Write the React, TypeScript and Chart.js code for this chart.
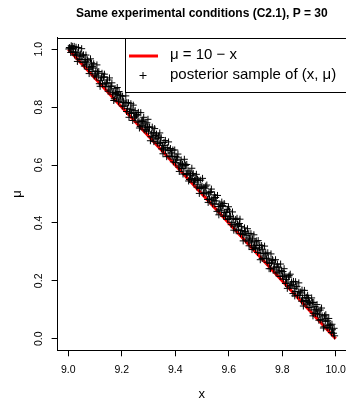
import React, { useEffect, useRef } from "react";
import { Chart, registerables } from "chart.js";

Chart.register(...registerables);

const TITLE = "Same experimental conditions (C2.1), P = 30";
const X_LABEL = "x";
const Y_LABEL = "μ";
const X_TICKS = [9.0, 9.2, 9.4, 9.6, 9.8, 10.0];
const Y_TICKS = [0.0, 0.2, 0.4, 0.6, 0.8, 1.0];
const LEGEND_LABELS = ["μ = 10 − x", "posterior sample of (x, μ)"];

// reference line mu = 10 - x
const LINE_X = [9.0, 10.0];
const LINE_MU = [1.0, 0.0];

// posterior sample of (x, mu)
const SAMPLE_X = [
  9.002, 9.006, 9.009, 9.013, 9.017, 9.020, 9.024, 9.027, 9.031, 9.036, 9.040, 9.043, 9.048, 9.052, 9.055, 9.060, 9.064, 9.068, 9.071, 9.076, 9.080, 9.085, 9.089, 9.093, 9.097,
  9.101, 9.105, 9.109, 9.112, 9.116, 9.121, 9.124, 9.128, 9.133, 9.137, 9.140, 9.144, 9.149, 9.152, 9.156, 9.161, 9.165, 9.168, 9.172, 9.177, 9.181, 9.185, 9.188, 9.193, 9.197,
  9.202, 9.205, 9.209, 9.213, 9.218, 9.221, 9.225, 9.229, 9.232, 9.236, 9.241, 9.245, 9.248, 9.252, 9.257, 9.260, 9.264, 9.269, 9.273, 9.276, 9.280, 9.284, 9.289, 9.292, 9.296,
  9.300, 9.304, 9.309, 9.312, 9.316, 9.320, 9.325, 9.328, 9.333, 9.337, 9.340, 9.345, 9.349, 9.352, 9.356, 9.361, 9.364, 9.368, 9.373, 9.377, 9.380, 9.384, 9.389, 9.393, 9.396,
  9.401, 9.404, 9.408, 9.413, 9.417, 9.420, 9.424, 9.429, 9.432, 9.436, 9.441, 9.444, 9.448, 9.453, 9.457, 9.460, 9.465, 9.468, 9.472, 9.477, 9.481, 9.484, 9.488, 9.492, 9.497,
  9.500, 9.505, 9.508, 9.512, 9.516, 9.521, 9.524, 9.528, 9.533, 9.536, 9.540, 9.545, 9.548, 9.553, 9.556, 9.561, 9.564, 9.569, 9.572, 9.576, 9.581, 9.585, 9.588, 9.593, 9.596,
  9.601, 9.604, 9.609, 9.612, 9.617, 9.620, 9.624, 9.628, 9.633, 9.637, 9.640, 9.644, 9.649, 9.652, 9.657, 9.660, 9.664, 9.668, 9.673, 9.676, 9.680, 9.685, 9.689, 9.692, 9.696,
  9.700, 9.705, 9.708, 9.713, 9.716, 9.720, 9.725, 9.729, 9.732, 9.736, 9.741, 9.744, 9.748, 9.753, 9.756, 9.760, 9.765, 9.768, 9.772, 9.777, 9.780, 9.784, 9.789, 9.792, 9.797,
  9.801, 9.804, 9.809, 9.812, 9.816, 9.821, 9.824, 9.828, 9.832, 9.837, 9.840, 9.845, 9.848, 9.852, 9.857, 9.860, 9.864, 9.869, 9.872, 9.876, 9.881, 9.884, 9.888, 9.893, 9.896,
  9.900, 9.904, 9.908, 9.913, 9.916, 9.920, 9.925, 9.928, 9.932, 9.937, 9.940, 9.944, 9.949, 9.952, 9.956, 9.961, 9.964, 9.968, 9.972, 9.976, 9.980, 9.984, 9.988, 9.992, 9.996,
  9.004, 9.011, 9.015, 9.022, 9.029, 9.034, 9.038, 9.045, 9.050, 9.057, 9.062, 9.066, 9.073, 9.078, 9.083, 9.087, 9.091, 9.095,
  9.103, 9.107, 9.114, 9.119, 9.126, 9.131, 9.135, 9.142, 9.147, 9.154, 9.159, 9.163, 9.170, 9.175, 9.179, 9.183, 9.190, 9.195,
  9.203, 9.207, 9.215, 9.219, 9.227, 9.234, 9.238, 9.243, 9.250, 9.255, 9.262, 9.266, 9.271, 9.278, 9.282, 9.287, 9.294, 9.298,
  9.302, 9.307, 9.314, 9.318, 9.323, 9.330, 9.335, 9.342, 9.347, 9.354, 9.358, 9.363, 9.370, 9.375, 9.382, 9.386, 9.391, 9.398,
  9.403, 9.410, 9.415, 9.422, 9.427, 9.434, 9.438, 9.443, 9.450, 9.455, 9.462, 9.467, 9.474, 9.479, 9.483, 9.490, 9.495,
  9.502, 9.507, 9.514, 9.518, 9.523, 9.530, 9.535, 9.542, 9.547, 9.551, 9.558, 9.563, 9.567, 9.574, 9.579, 9.583, 9.590, 9.595, 9.599,
  9.603, 9.607, 9.614, 9.619, 9.626, 9.631, 9.635, 9.642, 9.647, 9.654, 9.659, 9.662, 9.670, 9.675, 9.678, 9.683, 9.687, 9.694, 9.698,
  9.703, 9.710, 9.715, 9.718, 9.723, 9.727, 9.734, 9.739, 9.746, 9.751, 9.758, 9.763, 9.770, 9.775, 9.782, 9.787, 9.794,
  9.803, 9.807, 9.814, 9.819, 9.826, 9.830, 9.835, 9.842, 9.847, 9.850, 9.855, 9.862, 9.867, 9.874, 9.879, 9.883, 9.890, 9.895, 9.898,
  9.902, 9.910, 9.915, 9.918, 9.923, 9.930, 9.934, 9.942, 9.947, 9.954, 9.958, 9.963, 9.970, 9.974, 9.978, 9.986, 9.994,
];
const SAMPLE_MU = [
  1.001, 1.004, 0.989, 1.002, 0.991, 1.002, 0.980, 0.990, 0.980, 0.990, 0.966, 0.976, 0.965, 0.978, 0.954, 0.942, 0.957, 0.946, 0.964, 0.931, 0.938, 0.939, 0.923, 0.935, 0.908,
  0.915, 0.904, 0.922, 0.908, 0.881, 0.893, 0.901, 0.880, 0.905, 0.880, 0.871, 0.883, 0.855, 0.870, 0.859, 0.872, 0.845, 0.851, 0.829, 0.847, 0.832, 0.844, 0.819, 0.825, 0.839,
  0.804, 0.816, 0.803, 0.815, 0.785, 0.796, 0.815, 0.780, 0.791, 0.778, 0.754, 0.781, 0.763, 0.767, 0.775, 0.748, 0.752, 0.733, 0.751, 0.737, 0.750, 0.722, 0.731, 0.718, 0.731,
  0.715, 0.730, 0.698, 0.710, 0.696, 0.681, 0.702, 0.690, 0.676, 0.700, 0.674, 0.679, 0.656, 0.668, 0.655, 0.668, 0.652, 0.629, 0.650, 0.631, 0.651, 0.629, 0.630, 0.611, 0.629,
  0.609, 0.617, 0.625, 0.593, 0.600, 0.606, 0.588, 0.569, 0.587, 0.603, 0.567, 0.571, 0.580, 0.550, 0.565, 0.553, 0.565, 0.541, 0.546, 0.548, 0.524, 0.532, 0.547, 0.519, 0.523,
  0.527, 0.502, 0.506, 0.520, 0.503, 0.481, 0.500, 0.483, 0.508, 0.480, 0.466, 0.477, 0.465, 0.476, 0.440, 0.457, 0.445, 0.457, 0.442, 0.460, 0.423, 0.436, 0.424, 0.437, 0.412,
  0.416, 0.421, 0.394, 0.402, 0.416, 0.389, 0.396, 0.373, 0.395, 0.378, 0.398, 0.363, 0.374, 0.360, 0.361, 0.371, 0.341, 0.356, 0.337, 0.321, 0.341, 0.331, 0.345, 0.316, 0.323,
  0.312, 0.322, 0.298, 0.307, 0.324, 0.295, 0.277, 0.295, 0.279, 0.294, 0.276, 0.264, 0.278, 0.260, 0.242, 0.262, 0.270, 0.241, 0.247, 0.227, 0.248, 0.230, 0.234, 0.215, 0.235,
  0.217, 0.206, 0.220, 0.191, 0.205, 0.192, 0.213, 0.179, 0.184, 0.188, 0.156, 0.174, 0.163, 0.179, 0.149, 0.162, 0.150, 0.158, 0.130, 0.141, 0.128, 0.150, 0.132, 0.119, 0.128,
  0.108, 0.122, 0.107, 0.126, 0.088, 0.100, 0.087, 0.102, 0.085, 0.064, 0.083, 0.066, 0.079, 0.064, 0.041, 0.060, 0.069, 0.039, 0.046, 0.037, 0.045, 0.021, 0.031, 0.019, 0.010,
  1.006, 1.012, 1.010, 1.010, 1.007, 0.958, 1.006, 0.984, 1.002, 0.981, 0.965, 0.980, 0.960, 0.916, 0.967, 0.953, 0.940, 0.950,
  0.925, 0.946, 0.923, 0.872, 0.917, 0.903, 0.914, 0.884, 0.894, 0.901, 0.873, 0.884, 0.823, 0.864, 0.851, 0.868, 0.854, 0.840,
  0.838, 0.821, 0.839, 0.816, 0.765, 0.812, 0.793, 0.807, 0.788, 0.772, 0.782, 0.728, 0.781, 0.755, 0.765, 0.742, 0.746, 0.758,
  0.732, 0.684, 0.731, 0.712, 0.726, 0.707, 0.691, 0.711, 0.695, 0.639, 0.678, 0.685, 0.661, 0.680, 0.657, 0.642, 0.652, 0.652,
  0.630, 0.638, 0.578, 0.618, 0.602, 0.620, 0.598, 0.602, 0.545, 0.576, 0.589, 0.571, 0.553, 0.568, 0.551, 0.502, 0.548,
  0.554, 0.523, 0.527, 0.531, 0.471, 0.505, 0.517, 0.486, 0.497, 0.488, 0.495, 0.428, 0.465, 0.472, 0.458, 0.467, 0.437, 0.447, 0.456,
  0.441, 0.423, 0.438, 0.375, 0.412, 0.416, 0.392, 0.413, 0.388, 0.338, 0.383, 0.369, 0.380, 0.364, 0.348, 0.363, 0.308, 0.359, 0.335,
  0.338, 0.339, 0.314, 0.273, 0.322, 0.309, 0.320, 0.293, 0.297, 0.242, 0.293, 0.274, 0.258, 0.273, 0.258, 0.247, 0.258,
  0.232, 0.242, 0.214, 0.174, 0.218, 0.223, 0.196, 0.198, 0.148, 0.197, 0.181, 0.193, 0.162, 0.168, 0.113, 0.167, 0.143, 0.150, 0.140,
  0.125, 0.141, 0.079, 0.125, 0.111, 0.118, 0.096, 0.099, 0.106, 0.037, 0.079, 0.083, 0.062, 0.070, 0.050, 0.050, 0.036,
];

const FONT = "'Liberation Sans', Arial, Helvetica, sans-serif";

const decorPlugin = {
  id: "decor",
  afterDraw(chart: any) {
    const ctx = chart.ctx as CanvasRenderingContext2D;
    const area = chart.chartArea;
    const xs = chart.scales.x;
    const ys = chart.scales.y;
    const cx = (area.left + area.right) / 2;
    ctx.save();
    ctx.fillStyle = "#000";
    ctx.strokeStyle = "#000";
    ctx.lineWidth = 1;

    // box top
    ctx.beginPath();
    ctx.moveTo(area.left, Math.round(area.top) + 0.5);
    ctx.lineTo(area.right + 1, Math.round(area.top) + 0.5);
    ctx.stroke();

    // title
    ctx.font = `bold 12px ${FONT}`;
    ctx.textAlign = "center";
    ctx.textBaseline = "middle";
    ctx.fillText(TITLE, cx, 14);

    // x tick labels
    ctx.font = `10.5px ${FONT}`;
    for (const v of X_TICKS) {
      ctx.fillText(v.toFixed(1), xs.getPixelForValue(v), 370);
    }

    // x title
    ctx.font = `13px ${FONT}`;
    ctx.fillText(X_LABEL, cx, 394);

    // y tick labels (rotated, R style)
    ctx.font = `10.5px ${FONT}`;
    for (const v of Y_TICKS) {
      const py = ys.getPixelForValue(v);
      ctx.save();
      ctx.translate(39.5, py);
      ctx.rotate(-Math.PI / 2);
      ctx.fillText(v.toFixed(1), 0, 0);
      ctx.restore();
    }

    // y title
    ctx.save();
    ctx.font = `13px ${FONT}`;
    ctx.translate(17, (area.top + area.bottom) / 2);
    ctx.rotate(-Math.PI / 2);
    ctx.fillText(Y_LABEL, 0, 0);
    ctx.restore();

    // legend box
    const lx = 125.5;
    const ly = Math.round(area.top) + 0.5;
    const lb = 92.5;
    ctx.fillStyle = "#fff";
    ctx.fillRect(lx, ly, 400, lb - ly);
    ctx.strokeRect(lx, ly, 400, lb - ly);
    ctx.fillStyle = "#000";

    ctx.strokeStyle = "#ff0000";
    ctx.lineWidth = 3;
    ctx.beginPath();
    ctx.moveTo(129, 56);
    ctx.lineTo(158, 56);
    ctx.stroke();

    ctx.strokeStyle = "#000";
    ctx.lineWidth = 1;
    ctx.beginPath();
    ctx.moveTo(139.5, 75.5);
    ctx.lineTo(146.5, 75.5);
    ctx.moveTo(143, 72);
    ctx.lineTo(143, 79);
    ctx.stroke();

    ctx.font = `15px ${FONT}`;
    ctx.textAlign = "left";
    ctx.fillText(LEGEND_LABELS[0], 170, 55);
    ctx.fillText(LEGEND_LABELS[1], 170, 75);
    ctx.restore();
  },
};

export default function App() {
  const ref = useRef<HTMLCanvasElement>(null);
  useEffect(() => {
    document.body.style.margin = "0";
    const canvas = ref.current!;
    const chart = new Chart(canvas, {
      type: "scatter",
      data: {
        datasets: [
          {
            type: "scatter",
            label: LEGEND_LABELS[1],
            data: SAMPLE_X.map((x, i) => ({ x, y: SAMPLE_MU[i] })),
            pointStyle: "cross",
            pointRadius: 3.5,
            pointHoverRadius: 3.5,
            borderColor: "#000",
            backgroundColor: "#000",
            borderWidth: 1,
            order: 0,
          } as any,
          {
            type: "line",
            label: LEGEND_LABELS[0],
            data: LINE_X.map((x, i) => ({ x, y: LINE_MU[i] })),
            borderColor: "#ff0000",
            borderWidth: 3,
            pointRadius: 0,
            showLine: true,
            fill: false,
            order: 1,
          } as any,
        ],
      },
      options: {
        responsive: false,
        animation: false,
        devicePixelRatio: 1,
        layout: {
          autoPadding: false,
          padding: { top: 37.7, left: 0, right: 0, bottom: 0 },
        },
        plugins: {
          legend: { display: false },
          title: { display: false },
          tooltip: { enabled: false },
        },
        scales: {
          x: {
            type: "linear",
            min: 8.96,
            max: 10.0385,
            afterBuildTicks: (s: any) => {
              s.ticks = X_TICKS.map((v) => ({ value: v }));
            },
            afterFit: (s: any) => {
              s.height = 48.7;
              s.paddingLeft = 0;
              s.paddingRight = 0;
            },
            ticks: { display: false },
            grid: {
              display: true,
              drawOnChartArea: false,
              drawTicks: true,
              tickLength: 6,
              color: "#000",
              tickColor: "#000",
            },
            border: { display: true, color: "#000", width: 1 },
          },
          y: {
            type: "linear",
            min: -0.04,
            max: 1.04,
            afterBuildTicks: (s: any) => {
              s.ticks = Y_TICKS.map((v) => ({ value: v }));
            },
            afterFit: (s: any) => {
              s.width = 57.6;
              s.paddingTop = 0;
              s.paddingBottom = 0;
            },
            ticks: { display: false },
            grid: {
              display: true,
              drawOnChartArea: false,
              drawTicks: true,
              tickLength: 6,
              color: "#000",
              tickColor: "#000",
            },
            border: { display: true, color: "#000", width: 1 },
          },
        },
      },
      plugins: [decorPlugin],
    });
    return () => chart.destroy();
  }, []);
  return (
    <canvas
      ref={ref}
      width={346}
      height={399}
      style={{ display: "block", width: 346, height: 399 }}
    />
  );
}
